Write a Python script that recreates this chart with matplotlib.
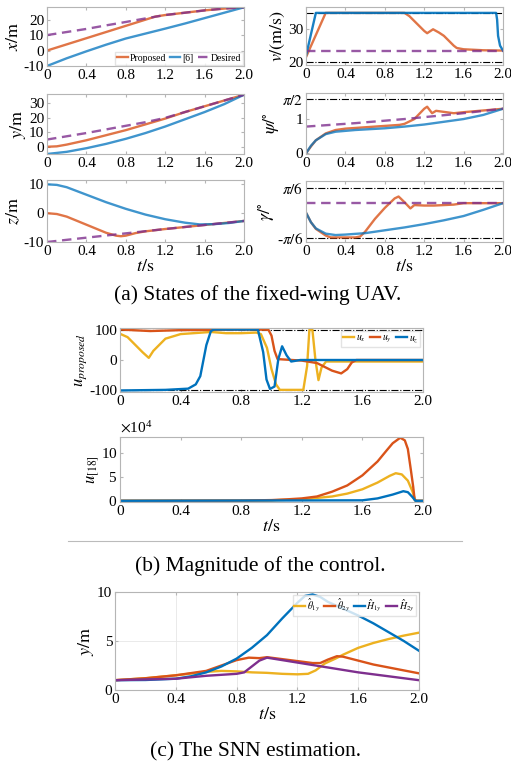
import numpy as np
import matplotlib.pyplot as plt

plt.rcParams['font.family'] = ['Liberation Serif', 'DejaVu Serif']
plt.rcParams['mathtext.fontset'] = 'stix'
plt.rcParams['axes.unicode_minus'] = False

# MATLAB default colours
C_ORG = '#D95319'
C_BLU = '#0072BD'
C_PUR = '#7E2F8E'
C_YEL = '#EDB120'
C_BOX = '#b5b5b5'

# ---------------- (a) states ----------------
# x position
tx_p = [0, 0.2, 0.4, 0.6, 0.8, 1.0, 1.1, 1.2, 1.4, 1.6, 1.8, 2.0]
x_p = [0, 4, 8, 12, 16, 20, 22, 23, 24.5, 26, 27.2, 28]
tx_6 = [0, 0.2, 0.4, 0.6, 0.8, 1.0, 1.2, 1.4, 1.6, 1.8, 2.0]
x_6 = [-10, -5, -0.5, 3.8, 7.8, 11, 14.2, 17.5, 21, 24.5, 28]
tx_d = [0, 0.2, 0.4, 0.6, 0.8, 1.0, 1.2, 1.4, 1.6, 1.8, 2.0]
x_d = [10, 12, 14, 16.3, 18.5, 20.8, 23, 24.5, 26, 27.2, 28]

# y position
ty_p = [0, 0.1, 0.2, 0.4, 0.6, 0.8, 1.0, 1.2, 1.4, 1.6, 1.8, 2.0]
y_p = [0, 0.3, 1.5, 4.5, 8, 11.5, 15.5, 19.5, 24, 28, 32, 36]
ty_6 = [0, 0.2, 0.4, 0.6, 0.8, 1.0, 1.2, 1.4, 1.6, 1.8, 2.0]
y_6 = [-5, -3.5, -1, 2, 5.5, 9.5, 14, 19, 24, 29.5, 36]
ty_d = [0, 0.4, 0.8, 1.0, 1.2, 1.4, 1.6, 1.8, 2.0]
y_d = [5, 9.5, 14.5, 17, 20, 24, 28, 32, 36]

# z position
tz_p = [0, 0.1, 0.2, 0.4, 0.6, 0.7, 0.75, 0.8, 0.9, 1.0, 1.2, 1.6, 2.0]
z_p = [0, -0.3, -1.2, -4, -6.8, -7.8, -8, -7.8, -6.9, -6.3, -5.5, -4.1, -2.7]
tz_6 = [0, 0.1, 0.2, 0.4, 0.6, 0.8, 1.0, 1.2, 1.4, 1.55, 1.7, 1.85, 2.0]
z_6 = [10, 9.8, 9, 6.4, 3.8, 1.5, -0.5, -2.1, -3.3, -3.9, -3.8, -3.4, -2.7]
tz_d = [0, 0.4, 0.8, 1.2, 1.6, 2.0]
z_d = [-10, -8.5, -7, -5.5, -4.1, -2.7]

# speed
tv_p = [0, 0.2, 1.0, 1.05, 1.1, 1.2, 1.23, 1.29, 1.35, 1.4, 1.45, 1.5, 1.53, 1.6, 1.8, 2.0]
v_p = [21.5, 35, 35, 34, 32.5, 29.5, 28.8, 30, 29, 28, 26.5, 25, 24.3, 23.9, 23.6, 23.5]
tv_6 = [0, 0.1, 1.93, 1.94, 1.95, 1.97, 2.0]
v_6 = [21.9, 35, 35, 33, 28, 25, 23.5]
tv_d = [0, 2.0]
v_d = [23.5, 23.5]
v_max, v_min = 35, 20

# heading angle psi
tpsi_p = [0, 0.05, 0.1, 0.2, 0.3, 0.4, 0.6, 0.8, 0.95, 1.0, 1.1, 1.2, 1.23, 1.28, 1.32, 1.5, 1.6, 1.8, 2.0]
psi_p = [0, 0.2, 0.38, 0.58, 0.68, 0.72, 0.76, 0.8, 0.83, 0.86, 1.0, 1.3, 1.36, 1.17, 1.24, 1.17, 1.2, 1.25, 1.3]
tpsi_6 = [0, 0.05, 0.1, 0.2, 0.3, 0.5, 0.8, 1.0, 1.2, 1.4, 1.6, 1.8, 2.0]
psi_6 = [0, 0.22, 0.38, 0.56, 0.63, 0.68, 0.73, 0.78, 0.84, 0.92, 1.0, 1.12, 1.3]
tpsi_d = [0, 0.5, 1.0, 1.5, 2.0]
psi_d = [0.78, 0.88, 1.0, 1.14, 1.3]

# flight path angle gamma
tg_p = [0, 0.05, 0.1, 0.2, 0.25, 0.5, 0.55, 0.6, 0.7, 0.8, 0.9, 0.94, 1.0, 1.06, 1.1, 1.2, 1.3, 1.5, 1.6, 2.0]
g_p = [0, -0.2, -0.34, -0.48, -0.52, -0.52, -0.5, -0.4, -0.13, 0.1, 0.3, 0.34, 0.22, 0.09, 0.16, 0.15, 0.15, 0.17, 0.2, 0.2]
tg_6 = [0, 0.05, 0.1, 0.2, 0.3, 0.4, 0.6, 0.8, 1.0, 1.2, 1.4, 1.6, 1.8, 2.0]
g_6 = [0, -0.2, -0.33, -0.44, -0.47, -0.46, -0.43, -0.37, -0.31, -0.24, -0.16, -0.07, 0.06, 0.2]
tg_d = [0, 2.0]
g_d = [0.2, 0.2]

# ---------------- (b) control ----------------
tux = [0, 0.05, 0.1, 0.15, 0.19, 0.22, 0.3, 0.4, 0.6, 0.7, 0.8, 0.9, 0.93, 0.97, 1.0, 1.03, 1.055,
       1.21, 1.235, 1.25, 1.27, 1.29, 1.31, 1.33, 1.36, 2.0]
ux = [86, 75, 50, 25, 7, 30, 70, 85, 92, 88, 88, 90, 85, 40, -30, -80, -98,
      -98, -20, 99, 99, 0, -66, -25, -5, -5]
tuy = [0, 0.2, 0.4, 0.9, 0.98, 1.0, 1.02, 1.04, 1.2, 1.3, 1.4, 1.46, 1.5, 1.53, 1.56, 2.0]
uy = [100, 95, 98, 100, 99, 80, 30, 3, -2, -10, -35, -44, -30, -8, 0, 0]
tuz = [0, 0.3, 0.45, 0.5, 0.53, 0.57, 0.6, 0.62, 0.91, 0.945, 0.967, 0.99, 1.02, 1.045, 1.07,
       1.1, 1.13, 1.19, 2.0]
uz = [-100, -98, -94, -80, -53, 49, 95, 100, 100, 26, -64, -95, -87, 3, 45, 15, -5, 0, 0]
u_lim = 100

t18 = [0, 0.8, 1.0, 1.1, 1.2, 1.3, 1.4, 1.5, 1.6, 1.7, 1.76, 1.8, 1.85, 1.88, 1.9, 1.92, 1.935, 1.945, 1.96, 2.0]
u18_y = [0, 0.05, 0.15, 0.3, 0.5, 0.9, 1.9, 3.2, 5.3, 8.2, 10.5, 12, 13.15, 12.6, 10.8, 6.4, 3, 0.2, 0, 0]
t18x = [0, 0.8, 1.0, 1.2, 1.4, 1.5, 1.6, 1.7, 1.78, 1.82, 1.86, 1.9, 1.93, 1.95, 2.0]
u18_x = [0, 0.03, 0.1, 0.3, 0.9, 1.5, 2.4, 3.8, 5.2, 5.75, 5.5, 4.2, 2, 0, 0]
t18z = [0, 1.6, 1.7, 1.8, 1.87, 1.9, 1.93, 1.95, 2.0]
u18_z = [0, 0.1, 0.5, 1.3, 2.0, 1.8, 0.8, 0, 0]

# ---------------- (c) SNN estimation ----------------
tc_th1 = [0, 0.2, 0.4, 0.6, 0.7, 0.8, 0.9, 1.0, 1.1, 1.2, 1.27, 1.32, 1.38, 1.45, 1.5, 1.6, 1.7, 1.8, 1.9, 2.0]
th1 = [1, 1.2, 1.5, 1.85, 1.95, 1.9, 1.8, 1.75, 1.65, 1.6, 1.65, 2.0, 2.7, 3.2, 3.6, 4.3, 4.8, 5.2, 5.55, 5.85]
tc_th2 = [0, 0.2, 0.4, 0.6, 0.7, 0.8, 0.88, 0.95, 1.0, 1.1, 1.2, 1.3, 1.35, 1.4, 1.46, 1.5, 1.6, 1.7, 1.8, 1.9, 2.0]
th2 = [1, 1.2, 1.5, 1.95, 2.5, 3.05, 3.3, 3.25, 3.35, 3.15, 2.95, 2.75, 2.75, 3.1, 3.45, 3.4, 3.0, 2.6, 2.3, 2.0, 1.7]
tc_h1 = [0, 0.2, 0.4, 0.5, 0.6, 0.7, 0.8, 0.9, 1.0, 1.1, 1.2, 1.25, 1.3, 1.35, 1.4, 1.5, 1.6, 1.7, 1.8, 1.9, 2.0]
h1 = [1, 1.02, 1.15, 1.4, 1.8, 2.4, 3.2, 4.3, 5.6, 7.3, 8.9, 9.6, 9.75, 9.5, 9.0, 8.3, 7.6, 6.8, 5.9, 5.0, 4.0]
tc_h2 = [0, 0.4, 0.6, 0.8, 0.85, 0.9, 0.95, 1.0, 1.1, 1.2, 1.4, 1.6, 1.8, 2.0]
h2 = [1, 1.15, 1.45, 1.65, 1.8, 2.4, 3.0, 3.3, 3.05, 2.8, 2.3, 1.8, 1.4, 1.0]

t_ticks = [0, 0.4, 0.8, 1.2, 1.6, 2.0]
t_labels = ['0', '0.4', '0.8', '1.2', '1.6', '2.0']

W, H = 511, 766
fig = plt.figure(figsize=(W / 100, H / 100), dpi=100)

TICK_FS = 11
LAB_FS = 13
CAP_FS = 15.5


def add_ax(l, t, r, b):
    ax = fig.add_axes([l / W, 1 - b / H, (r - l) / W, (b - t) / H])
    ax.set_xlim(0, 2)
    ax.set_xticks(t_ticks)
    ax.set_xticklabels(t_labels)
    for s in ax.spines.values():
        s.set_color(C_BOX)
        s.set_linewidth(0.8)
    ax.tick_params(direction='in', length=2, color=C_BOX, labelsize=TICK_FS, pad=2,
                   top=True, right=True)
    return ax


lw = 1.7
dash = (0, (4, 2.4))
leg_kw = dict(fontsize=7, handlelength=1.1, handletextpad=0.2, columnspacing=0.4,
              borderpad=0.2, fancybox=False, edgecolor='#dddddd')

# x
ax = add_ax(47, 7, 244, 66)
ax.plot(tx_p, x_p, color=C_ORG, lw=lw, label='Proposed', alpha=0.8)
ax.plot(tx_6, x_6, color=C_BLU, lw=lw, label='[6]', alpha=0.75)
ax.plot(tx_d, x_d, color=C_PUR, lw=lw, ls=dash, label='Desired', alpha=0.8)
ax.set_ylim(-10, 28.2)
ax.set_yticks([-10, 0, 10, 20])
ax.set_ylabel(r'$x/\mathrm{m}$', fontsize=LAB_FS, labelpad=1)
ax.legend(loc='lower right', ncol=3, borderaxespad=0.15, **leg_kw)

# v
ax = add_ax(306, 7, 503, 65)
ax.axhline(v_max, color='k', lw=0.8, ls='-.')
ax.axhline(v_min, color='k', lw=0.8, ls='-.')
ax.plot(tv_p, v_p, color=C_ORG, lw=lw, alpha=0.8)
ax.plot(tv_6, v_6, color=C_BLU, lw=lw, alpha=0.9)
ax.plot(tv_d, v_d, color=C_PUR, lw=lw, ls=dash, alpha=0.8)
ax.set_ylim(19.1, 36.8)
ax.set_yticks([20, 30])
ax.set_ylabel(r'$v/(\mathrm{m/s})$', fontsize=LAB_FS, labelpad=1)

# y
ax = add_ax(47, 94, 244, 154)
ax.plot(ty_p, y_p, color=C_ORG, lw=lw, alpha=0.8)
ax.plot(ty_6, y_6, color=C_BLU, lw=lw, alpha=0.75)
ax.plot(ty_d, y_d, color=C_PUR, lw=lw, ls=dash, alpha=0.8)
ax.set_ylim(-5, 36.5)
ax.set_yticks([0, 10, 20, 30])
ax.set_ylabel(r'$y/\mathrm{m}$', fontsize=LAB_FS, labelpad=1)

# psi
ax = add_ax(306, 93, 503, 154)
ax.axhline(np.pi / 2, color='k', lw=0.8, ls='-.')
ax.plot(tpsi_p, psi_p, color=C_ORG, lw=lw, alpha=0.8)
ax.plot(tpsi_6, psi_6, color=C_BLU, lw=lw, alpha=0.75)
ax.plot(tpsi_d, psi_d, color=C_PUR, lw=lw, ls=dash, alpha=0.8)
ax.set_ylim(-0.02, 1.76)
ax.set_yticks([0, 1, np.pi / 2])
ax.set_yticklabels(['0', '1', r'$\pi/2$'])
ax.set_ylabel(r'$\psi/^{\circ}$', fontsize=LAB_FS, labelpad=1)

# z
ax = add_ax(47, 180, 244, 242)
ax.plot(tz_p, z_p, color=C_ORG, lw=lw, alpha=0.8)
ax.plot(tz_6, z_6, color=C_BLU, lw=lw, alpha=0.75)
ax.plot(tz_d, z_d, color=C_PUR, lw=lw, ls=dash, alpha=0.8)
ax.set_ylim(-10, 11.5)
ax.set_yticks([-10, 0, 10])
ax.set_ylabel(r'$z/\mathrm{m}$', fontsize=LAB_FS, labelpad=1)
ax.set_xlabel(r'$t/\mathrm{s}$', fontsize=LAB_FS, labelpad=0)

# gamma
ax = add_ax(306, 181, 503, 242)
ax.axhline(np.pi / 6, color='k', lw=0.8, ls='-.')
ax.axhline(-np.pi / 6, color='k', lw=0.8, ls='-.')
ax.plot(tg_p, g_p, color=C_ORG, lw=lw, alpha=0.8)
ax.plot(tg_6, g_6, color=C_BLU, lw=lw, alpha=0.75)
ax.plot(tg_d, g_d, color=C_PUR, lw=lw, ls=dash, alpha=0.8)
ax.set_ylim(-0.616, 0.666)
ax.set_yticks([-np.pi / 6, np.pi / 6])
ax.set_yticklabels([r'-$\pi/6$', r'$\pi/6$'])
ax.set_ylabel(r'$\gamma/^{\circ}$', fontsize=LAB_FS, labelpad=1)
ax.set_xlabel(r'$t/\mathrm{s}$', fontsize=LAB_FS, labelpad=0)

fig.text(258 / W, 1 - 295 / H, '(a) States of the fixed-wing UAV.', ha='center', va='center', fontsize=CAP_FS)

# u proposed
ax = add_ax(120, 328, 423, 392)
ax.axhline(u_lim, color='k', lw=0.8, ls='-.')
ax.axhline(-u_lim, color='k', lw=0.8, ls='-.')
ax.plot(tux, ux, color=C_YEL, lw=lw, label=r'$u_x$')
ax.plot(tuy, uy, color=C_ORG, lw=lw, label=r'$u_y$')
ax.plot(tuz, uz, color=C_BLU, lw=lw, label=r'$u_z$')
ax.set_ylim(-105, 105)
ax.set_yticks([-100, 0, 100])
ax.set_ylabel(r'$u_{proposed}$', fontsize=12, labelpad=0)
ax.legend(loc='upper right', ncol=3, borderaxespad=0.3, **leg_kw)

# u [18]
ax = add_ax(120, 437, 423, 502)
ax.plot(t18x, np.array(u18_x) * 1e4, color=C_YEL, lw=lw)
ax.plot(t18, np.array(u18_y) * 1e4, color=C_ORG, lw=lw)
ax.plot(t18z, np.array(u18_z) * 1e4, color=C_BLU, lw=lw)
ax.set_ylim(-0.25e4, 13.3e4)
ax.set_yticks([0, 5e4, 10e4])
ax.ticklabel_format(axis='y', style='sci', scilimits=(4, 4), useMathText=True)
ax.yaxis.get_offset_text().set_fontsize(TICK_FS)
ax.set_ylabel(r'$u_{[18]}$', fontsize=12, labelpad=0)
ax.set_xlabel(r'$t/\mathrm{s}$', fontsize=LAB_FS, labelpad=0)

fig.add_artist(plt.Line2D([68 / W, 462 / W], [1 - 541 / H, 1 - 541 / H], color='#bbbbbb', lw=0.8))
fig.text(260 / W, 1 - 566 / H, '(b) Magnitude of the control.', ha='center', va='center', fontsize=CAP_FS)

# (c)
ax = add_ax(115, 592, 419, 690)
ax.grid(True, color='#e6e6e6', lw=0.6)
ax.plot(tc_th1, th1, color=C_YEL, lw=lw, label=r'$\hat{\theta}_{1y}$')
ax.plot(tc_th2, th2, color=C_ORG, lw=lw, label=r'$\hat{\theta}_{2y}$')
ax.plot(tc_h1, h1, color=C_BLU, lw=lw, label=r'$\hat{H}_{1y}$')
ax.plot(tc_h2, h2, color=C_PUR, lw=lw, label=r'$\hat{H}_{2y}$')
ax.set_ylim(0, 10)
ax.set_yticks([0, 5, 10])
ax.set_ylabel(r'$y/\mathrm{m}$', fontsize=LAB_FS, labelpad=1)
ax.set_xlabel(r'$t/\mathrm{s}$', fontsize=LAB_FS, labelpad=0)
ax.legend(loc='upper right', ncol=4, borderaxespad=0.3, **leg_kw)

fig.text(255 / W, 1 - 752 / H, '(c) The SNN estimation.', ha='center', va='center', fontsize=CAP_FS)

fig.savefig('out.png', dpi=100)
